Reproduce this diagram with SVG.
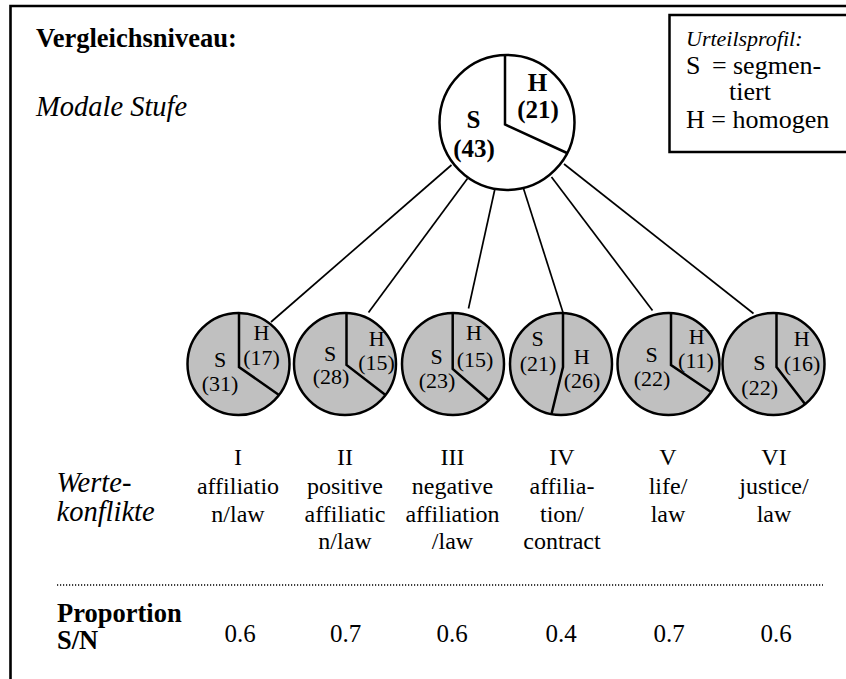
<svg xmlns="http://www.w3.org/2000/svg" width="846" height="679" viewBox="0 0 846 679">
<style>
  text { font-family: "Liberation Serif", "Times New Roman", serif; fill: #000; }
  .hb { font-weight: bold; font-size: 26.5px; }
  .it { font-style: italic; font-size: 28.5px; }
  .col { font-size: 24px; text-anchor: middle; }
  .num { font-size: 25px; text-anchor: middle; }
  .big { font-weight: bold; font-size: 25px; text-anchor: middle; }
  .sm { font-size: 22px; text-anchor: middle; }
  .leg { font-size: 26px; }
  .legi { font-style: italic; font-size: 22px; }
  .pie { fill: #c0c0c0; stroke: #000; stroke-width: 2.5; }
  .bigc { fill: #fff; stroke: #000; stroke-width: 2.5; }
  .div { fill: none; stroke: #000; stroke-width: 2.5; stroke-linejoin: miter; }
  .con { stroke: #000; stroke-width: 1.7; fill: none; }
</style>
<rect x="0" y="0" width="846" height="679" fill="#fff"/>
<path d="M10.5,682 V6 H850" fill="none" stroke="#000" stroke-width="2.6"/>

<g id="title">
  <text class="hb" x="36" y="47">Vergleichsniveau:</text>
  <text class="it" x="36" y="116">Modale Stufe</text>
</g>

<g id="legend">
  <rect x="669.5" y="15" width="200" height="137" fill="#fff" stroke="#000" stroke-width="2.5"/>
  <text class="legi" x="686" y="45.5">Urteilsprofil:</text>
  <text class="leg" x="686" y="73.5">S</text>
  <text class="leg" x="712" y="73.5">=</text>
  <text class="leg" x="733" y="73.5">segmen-</text>
  <text class="leg" x="729" y="100">tiert</text>
  <text class="leg" x="686" y="128" xml:space="preserve">H = homogen</text>
</g>

<g id="connectors">
  <line class="con" x1="451.5" y1="165" x2="271" y2="322"/>
  <line class="con" x1="467.5" y1="178.5" x2="368.5" y2="312.5"/>
  <line class="con" x1="495" y1="188.5" x2="468.5" y2="308.5"/>
  <line class="con" x1="523.5" y1="188.5" x2="563" y2="312.5"/>
  <line class="con" x1="551.5" y1="177" x2="652.5" y2="310.5"/>
  <line class="con" x1="564" y1="164" x2="753.5" y2="313.5"/>
</g>

<g id="modal">
  <circle class="bigc" cx="507" cy="122.5" r="67.5"/>
  <path class="div" d="M505,55 V124.5 L567,153"/>
  <text class="big" x="537.5" y="90.5">H</text>
  <text class="big" x="538" y="118">(21)</text>
  <text class="big" x="473.5" y="128">S</text>
  <text class="big" x="474" y="156.5">(43)</text>
</g>

<g id="node-1">
  <circle class="pie" cx="238.5" cy="364" r="51"/>
  <path class="div" d="M239,313 V367 L279,395"/>
  <text class="sm" x="261.5" y="340">H</text>
  <text class="sm" x="261.5" y="365">(17)</text>
  <text class="sm" x="220" y="367">S</text>
  <text class="sm" x="220" y="391">(31)</text>
</g>
<g id="node-2">
  <circle class="pie" cx="345" cy="364" r="51"/>
  <path class="div" d="M346.5,313 V365 L385.5,395"/>
  <text class="sm" x="376.7" y="346">H</text>
  <text class="sm" x="376.5" y="370">(15)</text>
  <text class="sm" x="330" y="361">S</text>
  <text class="sm" x="331" y="384">(28)</text>
</g>
<g id="node-3">
  <circle class="pie" cx="453" cy="364" r="51"/>
  <path class="div" d="M452.7,313 V369 L488.5,400"/>
  <text class="sm" x="474" y="340">H</text>
  <text class="sm" x="475" y="367">(15)</text>
  <text class="sm" x="436.7" y="364">S</text>
  <text class="sm" x="437" y="388">(23)</text>
</g>
<g id="node-4">
  <circle class="pie" cx="561" cy="364" r="51"/>
  <path class="div" d="M563,313 V367 L551.5,414"/>
  <text class="sm" x="537.7" y="346">S</text>
  <text class="sm" x="538" y="371">(21)</text>
  <text class="sm" x="581.7" y="364">H</text>
  <text class="sm" x="582" y="388">(26)</text>
</g>
<g id="node-5">
  <circle class="pie" cx="668.5" cy="364" r="51"/>
  <path class="div" d="M671,313 V365 L711,392"/>
  <text class="sm" x="696.7" y="344">H</text>
  <text class="sm" x="696" y="368">(11)</text>
  <text class="sm" x="651.7" y="362">S</text>
  <text class="sm" x="652" y="386">(22)</text>
</g>
<g id="node-6">
  <circle class="pie" cx="773.5" cy="364" r="51"/>
  <path class="div" d="M776.5,313 V367 L805,404"/>
  <text class="sm" x="801.7" y="346">H</text>
  <text class="sm" x="802" y="371">(16)</text>
  <text class="sm" x="759.3" y="370">S</text>
  <text class="sm" x="759.7" y="394.5">(22)</text>
</g>

<g id="werte">
  <text class="it" x="56.5" y="491.5">Werte-</text>
  <text class="it" x="56.5" y="520.5">konflikte</text>
</g>

<g id="columns">
  <text class="col" x="238" y="465">I</text>
  <text class="col" x="238" y="494">affiliatio</text>
  <text class="col" x="238" y="521.5">n/law</text>

  <text class="col" x="345" y="465">II</text>
  <text class="col" x="345" y="494">positive</text>
  <text class="col" x="345" y="521.5">affiliatic</text>
  <text class="col" x="345" y="549">n/law</text>

  <text class="col" x="452.5" y="465">III</text>
  <text class="col" x="452.5" y="494">negative</text>
  <text class="col" x="452.5" y="521.5">affiliation</text>
  <text class="col" x="452.5" y="549">/law</text>

  <text class="col" x="562" y="465">IV</text>
  <text class="col" x="562" y="494">affilia-</text>
  <text class="col" x="562" y="521.5">tion/</text>
  <text class="col" x="562" y="549">contract</text>

  <text class="col" x="668" y="465">V</text>
  <text class="col" x="668" y="494">life/</text>
  <text class="col" x="668" y="521.5">law</text>

  <text class="col" x="774" y="465">VI</text>
  <text class="col" x="774" y="494">justice/</text>
  <text class="col" x="774" y="521.5">law</text>
</g>

<line x1="57" y1="585" x2="823" y2="585" stroke="#000" stroke-width="1.3" stroke-dasharray="1.2 1.8"/>

<g id="proportion">
  <text class="hb" x="57" y="621.5">Proportion</text>
  <text class="hb" x="57" y="648.5">S/N</text>
  <text class="num" x="240" y="641.5">0.6</text>
  <text class="num" x="345.5" y="641.5">0.7</text>
  <text class="num" x="452" y="641.5">0.6</text>
  <text class="num" x="561" y="641.5">0.4</text>
  <text class="num" x="669" y="641.5">0.7</text>
  <text class="num" x="776" y="641.5">0.6</text>
</g>
</svg>
